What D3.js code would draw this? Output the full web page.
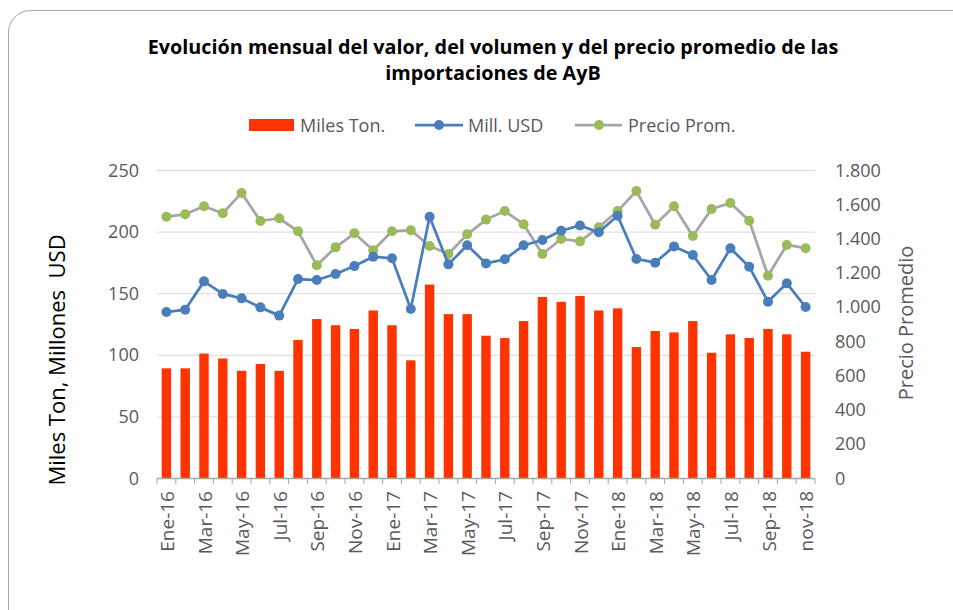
<!DOCTYPE html>
<html>
<head>
<meta charset="utf-8">
<script src="https://cdn.jsdelivr.net/npm/d3@7"></script>
<style>
  body { margin: 0; background: #fff; }
  svg { display: block; font-family: "Open Sans", "Liberation Sans", sans-serif; }
</style>
</head>
<body>
<script>
// datos
const meses = ['Ene-16','Feb-16','Mar-16','Abr-16','May-16','Jun-16','Jul-16','Ago-16','Sep-16','Oct-16','Nov-16','Dic-16',
  'Ene-17','Feb-17','Mar-17','Abr-17','May-17','Jun-17','Jul-17','Ago-17','Sep-17','Oct-17','Nov-17','Dic-17',
  'Ene-18','Feb-18','Mar-18','Abr-18','May-18','Jun-18','Jul-18','Ago-18','Sep-18','Oct-18','nov-18'];

const milesTon = [89, 89, 101, 97, 87, 92.5, 87, 112, 129, 124, 121, 136,
  124, 95.5, 157, 133, 133, 115.5, 113.6, 127.4, 147, 143, 147.7, 136,
  137.7, 106.3, 119.3, 118.2, 127.4, 101.7, 116.6, 113.6, 121, 116.6, 102.5];

const millUSD = [134.7, 136.6, 159.6, 149.4, 145.8, 138.5, 131.8, 161.5, 160.7, 165.6, 172, 179.6,
  178.3, 137.2, 212, 173.4, 188.9, 174.2, 177.5, 188.9, 193.2, 200.7, 205, 199.4,
  212.9, 177.8, 174.8, 188, 181, 160.7, 186.4, 171.5, 143.1, 158, 138.8];

const precioProm = [1527, 1541, 1588, 1547, 1666, 1502, 1518, 1442, 1243, 1348, 1430, 1331,
  1442, 1448, 1356, 1309, 1424, 1510, 1560, 1483, 1309, 1397, 1383, 1465,
  1560, 1677, 1480, 1588, 1414, 1572, 1607, 1504, 1182, 1362, 1343];

const ticksIzq = [0, 50, 100, 150, 200, 250];
const ticksDer = [0, 200, 400, 600, 800, 1000, 1200, 1400, 1600, 1800];

function renderChart() {
  const width = 953, height = 610;
  const plot = { left: 157, right: 815, top: 170, bottom: 478 };

  const svg = d3.select('body').append('svg')
    .attr('width', width).attr('height', height);

  // marco redondeado
  svg.append('rect')
    .attr('x', 8.5).attr('y', 10.5)
    .attr('width', 980).attr('height', 640)
    .attr('rx', 22)
    .attr('fill', 'none')
    .attr('stroke', '#a6a6a6');

  // título
  const titulo = svg.append('text')
    .attr('text-anchor', 'middle')
    .attr('font-size', 19.8)
    .attr('font-weight', 'bold')
    .attr('fill', '#000');
  titulo.append('tspan').attr('x', 493).attr('y', 54)
    .text('Evolución mensual del valor, del volumen y del precio promedio de las');
  titulo.append('tspan').attr('x', 493).attr('y', 80)
    .text('importaciones de AyB');

  // escalas
  const x = d3.scaleBand().domain(meses).range([plot.left, plot.right]).paddingInner(0.5).paddingOuter(0.25);
  const xc = d => x(d) + x.bandwidth() / 2;
  const yIzq = d3.scaleLinear().domain([0, 250]).range([plot.bottom, plot.top]);
  const yDer = d3.scaleLinear().domain([0, 1800]).range([plot.bottom, plot.top]);

  // rejilla
  svg.append('g').selectAll('line').data(ticksIzq.slice(1)).enter().append('line')
    .attr('x1', plot.left).attr('x2', plot.right)
    .attr('y1', d => yIzq(d) + 0.5).attr('y2', d => yIzq(d) + 0.5)
    .attr('stroke', '#d9d9d9').attr('stroke-width', 1);

  // barras
  svg.append('g').selectAll('rect').data(milesTon).enter().append('rect')
    .attr('x', (d, i) => x(meses[i]))
    .attr('y', d => yIzq(d))
    .attr('width', x.bandwidth())
    .attr('height', d => plot.bottom - yIzq(d))
    .attr('fill', '#ff3300');

  // eje X
  const step = x.step();
  const bordes = d3.range(meses.length + 1).map(i => plot.left + i * step);
  svg.append('line')
    .attr('x1', plot.left).attr('x2', plot.right)
    .attr('y1', plot.bottom + 0.5).attr('y2', plot.bottom + 0.5)
    .attr('stroke', '#a6a6a6').attr('stroke-width', 1.5);
  svg.append('g').selectAll('line').data(bordes).enter().append('line')
    .attr('x1', d => d).attr('x2', d => d)
    .attr('y1', plot.bottom).attr('y2', plot.bottom + 6)
    .attr('stroke', '#a6a6a6');

  svg.append('g').selectAll('text').data(meses.filter((d, i) => i % 2 === 0)).enter().append('text')
    .attr('transform', d => `translate(${xc(d) + 7.5},${plot.bottom + 13}) rotate(-90)`)
    .attr('text-anchor', 'end')
    .attr('font-size', 19)
    .attr('fill', '#595959')
    .text(d => d);

  // líneas
  const lineIzq = d3.line().x((d, i) => xc(meses[i])).y(d => yIzq(d));
  const lineDer = d3.line().x((d, i) => xc(meses[i])).y(d => yDer(d));

  svg.append('path').datum(precioProm)
    .attr('d', lineDer).attr('fill', 'none')
    .attr('stroke', '#a5a5a5').attr('stroke-width', 2.75).attr('stroke-linejoin', 'round');
  svg.append('g').selectAll('circle').data(precioProm).enter().append('circle')
    .attr('cx', (d, i) => xc(meses[i])).attr('cy', d => yDer(d)).attr('r', 5)
    .attr('fill', '#9bbb59');

  svg.append('path').datum(millUSD)
    .attr('d', lineIzq).attr('fill', 'none')
    .attr('stroke', '#4a7ebb').attr('stroke-width', 2.75).attr('stroke-linejoin', 'round');
  svg.append('g').selectAll('circle').data(millUSD).enter().append('circle')
    .attr('cx', (d, i) => xc(meses[i])).attr('cy', d => yIzq(d)).attr('r', 5)
    .attr('fill', '#4a7ebb');

  // ejes Y
  svg.append('g').selectAll('text').data(ticksIzq).enter().append('text')
    .attr('x', 139).attr('y', d => yIzq(d) + 6.5)
    .attr('text-anchor', 'end').attr('font-size', 18).attr('fill', '#595959')
    .text(d => d);

  const fmt = d3.formatLocale({ decimal: ',', thousands: '.', grouping: [3], currency: ['', ''] }).format(',');
  svg.append('g').selectAll('text').data(ticksDer).enter().append('text')
    .attr('x', 835).attr('y', d => yDer(d) + 6.5)
    .attr('text-anchor', 'start').attr('font-size', 18).attr('fill', '#595959')
    .text(d => fmt(d));

  svg.append('text')
    .attr('transform', 'translate(65,360) rotate(-90)')
    .attr('text-anchor', 'middle').attr('font-size', 22).attr('fill', '#000')
    .attr('xml:space', 'preserve')
    .style('white-space', 'pre')
    .text('Miles Ton, Millones  USD');

  svg.append('text')
    .attr('transform', 'translate(913,323) rotate(-90)')
    .attr('text-anchor', 'middle').attr('font-size', 20).attr('fill', '#595959')
    .text('Precio Promedio');

  // leyenda
  const ley = svg.append('g').attr('font-size', 18).attr('fill', '#595959');
  ley.append('rect').attr('x', 249).attr('y', 119).attr('width', 45).attr('height', 12).attr('fill', '#ff3300');
  ley.append('text').attr('x', 300).attr('y', 131.5).text('Miles Ton.');
  ley.append('line').attr('x1', 415).attr('x2', 463).attr('y1', 125).attr('y2', 125)
    .attr('stroke', '#4a7ebb').attr('stroke-width', 2.75);
  ley.append('circle').attr('cx', 439).attr('cy', 125).attr('r', 5).attr('fill', '#4a7ebb');
  ley.append('text').attr('x', 468).attr('y', 131.5).text('Mill. USD');
  ley.append('line').attr('x1', 575).attr('x2', 622).attr('y1', 125).attr('y2', 125)
    .attr('stroke', '#a5a5a5').attr('stroke-width', 2.75);
  ley.append('circle').attr('cx', 599).attr('cy', 125).attr('r', 5).attr('fill', '#9bbb59');
  ley.append('text').attr('x', 628).attr('y', 131.5).text('Precio Prom.');
}

window.addEventListener('load', function() {
  requestAnimationFrame(renderChart);
});
</script>
</body>
</html>
